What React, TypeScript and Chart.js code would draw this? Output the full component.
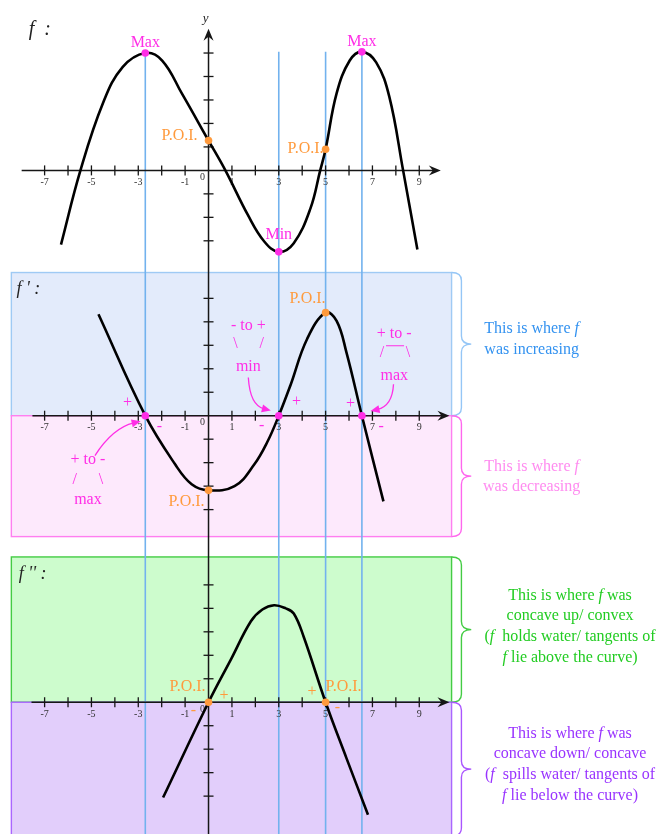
import { useEffect, useRef } from 'react';
import { Chart, registerables } from 'chart.js';

Chart.register(...registerables);

// ---- layout constants (pixels) ----
const W = 668;
const H = 834;
const UNIT = 23.7; // pixels per unit on every axis
const ORIGIN_X = 207;
const ZERO_F = 168;
const ZERO_D1 = 415.7;
const ZERO_D2 = 705;

// ---- f ----
const fX = [-6.3, -5.47, -4.51, -3.67, -2.7, -1.98, -1.14, 0, 0.72, 1.68, 2.38, 3, 3.64, 4.35, 4.77, 5, 5.47, 6.03, 6.55, 7.16, 7.72, 8.31, 8.92];
const fY = [-3.16, 0, 2.86, 4.4, 5.0, 4.68, 3.28, 1.27, 0, -1.9, -3.03, -3.47, -3.1, -1.63, 0, 0.9, 3.28, 4.68, 5.05, 4.6, 3.14, 0, -3.37];
const fExtX = [-2.7, 3, 6.55];
const fExtY = [5.0, -3.47, 5.05];
const fExtLabels = ['Max', 'Min', 'Max'];
const fPoiX = [0, 5];
const fPoiY = [1.27, 0.9];

// ---- f' ----
const d1X = [-4.7, -2.7, -1.42, -0.72, 0, 1.11, 1.95, 2.52, 3, 3.5, 4.21, 5, 5.47, 5.89, 6.55, 7.47];
const d1Y = [4.32, 0, -2.08, -2.92, -3.18, -3.0, -2.08, -1.1, 0, 1.3, 3.27, 4.39, 4.04, 2.7, 0, -3.65];
const d1ZeroX = [-2.7, 3, 6.55];
const d1PoiX = [0, 5];
const d1PoiY = [-3.18, 4.39];

// ---- f'' ----
const d2X = [-1.94, 0, 0.97, 1.81, 2.3, 2.8, 3.3, 3.64, 4.06, 5, 5.89, 6.81];
const d2Y = [-4.06, 0, 1.85, 3.45, 3.95, 4.13, 4.0, 3.78, 2.8, 0, -2.38, -4.79];
const d2PoiX = [0, 5];

// ---- axes ----
const xTicks = [-7, -6, -5, -4, -3, -2, -1, 1, 2, 3, 4, 5, 6, 7, 8, 9];
const xTickLabels = [-7, -5, -3, -1, 1, 3, 5, 7, 9];
const fYTicks = [-3, -2, -1, 1, 2, 3, 4, 5];
const dYTicks = [-4, -3, -2, -1, 1, 2, 3, 4, 5];
const guideX = [-2.7, 3, 5, 6.55];

const FONT = '"Liberation Serif", "Times New Roman", serif';
const MAGENTA = '#ff2ee6';
const ORANGE = '#ff9a3c';
const GUIDE = '#72b2ee';
const AXIS = '#161616';

type Part = [string, boolean];

function drawRich(ctx: CanvasRenderingContext2D, parts: Part[], x: number, y: number, size: number, color: string, align: 'left' | 'center' = 'center') {
  const fontOf = (it: boolean) => `${it ? 'italic ' : ''}${size}px ${FONT}`;
  let total = 0;
  const widths = parts.map(([t, it]) => {
    ctx.font = fontOf(it);
    const w = ctx.measureText(t).width;
    total += w;
    return w;
  });
  let cx = align === 'center' ? x - total / 2 : x;
  ctx.textAlign = 'left';
  ctx.textBaseline = 'middle';
  ctx.fillStyle = color;
  parts.forEach(([t, it], i) => {
    ctx.font = fontOf(it);
    ctx.fillText(t, cx, y);
    cx += widths[i];
  });
}

function text(ctx: CanvasRenderingContext2D, s: string, x: number, y: number, size: number, color: string, align: CanvasTextAlign = 'center', italic = false) {
  ctx.font = `${italic ? 'italic ' : ''}${size}px ${FONT}`;
  ctx.textAlign = align;
  ctx.textBaseline = 'middle';
  ctx.fillStyle = color;
  ctx.fillText(s, x, y);
}

function curvedArrow(ctx: CanvasRenderingContext2D, sx: number, sy: number, cx: number, cy: number, ex: number, ey: number, color: string) {
  const a = Math.atan2(ey - cy, ex - cx);
  const L = 9;
  const hw = 4;
  const bx = ex - (L - 2) * Math.cos(a);
  const by = ey - (L - 2) * Math.sin(a);
  ctx.strokeStyle = color;
  ctx.fillStyle = color;
  ctx.lineWidth = 1.3;
  ctx.beginPath();
  ctx.moveTo(sx, sy);
  ctx.quadraticCurveTo(cx, cy, bx, by);
  ctx.stroke();
  ctx.beginPath();
  ctx.moveTo(ex, ey);
  ctx.lineTo(ex - L * Math.cos(a) + hw * Math.sin(a), ey - L * Math.sin(a) - hw * Math.cos(a));
  ctx.lineTo(ex - L * Math.cos(a) - hw * Math.sin(a), ey - L * Math.sin(a) + hw * Math.cos(a));
  ctx.closePath();
  ctx.fill();
}

function brace(ctx: CanvasRenderingContext2D, x0: number, x1: number, tip: number, top: number, bottom: number, color: string) {
  const mid = (top + bottom) / 2;
  const r = 8;
  ctx.strokeStyle = color;
  ctx.lineWidth = 1.4;
  ctx.beginPath();
  ctx.moveTo(x0, top);
  ctx.quadraticCurveTo(x1, top, x1, top + r);
  ctx.lineTo(x1, mid - r);
  ctx.quadraticCurveTo(x1, mid, tip, mid);
  ctx.quadraticCurveTo(x1, mid, x1, mid + r);
  ctx.lineTo(x1, bottom - r);
  ctx.quadraticCurveTo(x1, bottom, x0, bottom);
  ctx.stroke();
}

const diagram = {
  id: 'diagram',
  beforeDatasetsDraw(chart: any) {
    const { ctx, scales } = chart;
    const sx = scales.x;
    const yf = scales.yf;
    const y1 = scales.yd1;
    const y2 = scales.yd2;
    const X = (v: number) => sx.getPixelForValue(v);
    ctx.save();

    // panel backgrounds for f' and f''
    const box = (ys: any, top: number, bottom: number, fill: string, stroke: string) => {
      const l = X(-8.42);
      const r = X(10.38);
      const t = ys.getPixelForValue(top);
      const b = ys.getPixelForValue(bottom);
      ctx.fillStyle = fill;
      ctx.fillRect(l, t, r - l, b - t);
      ctx.strokeStyle = stroke;
      ctx.lineWidth = 1.4;
      ctx.strokeRect(l, t, r - l, b - t);
    };
    box(y1, 6.1, 0, '#e3ebfb', '#9fcaf4');
    box(y1, 0, -5.15, '#fde9fc', '#ff7ef0');
    box(y2, 6.19, 0, '#cdfccd', '#44cc44');
    box(y2, 0, -6.5, '#e2cefb', '#aa66ff');

    // vertical guide lines through the critical x values
    ctx.strokeStyle = GUIDE;
    ctx.lineWidth = 1.6;
    const gTop = yf.getPixelForValue(5.05);
    guideX.forEach((g) => {
      ctx.beginPath();
      ctx.moveTo(X(g), gTop);
      ctx.lineTo(X(g), H);
      ctx.stroke();
    });

    // y axis (one line through all three panels)
    const ax = X(0);
    const yTip = yf.getPixelForValue(6.03);
    ctx.strokeStyle = AXIS;
    ctx.fillStyle = AXIS;
    ctx.lineWidth = 1.5;
    ctx.beginPath();
    ctx.moveTo(ax, yTip + 6);
    ctx.lineTo(ax, H);
    ctx.stroke();
    ctx.beginPath();
    ctx.moveTo(ax, yTip);
    ctx.lineTo(ax - 5, yTip + 12);
    ctx.lineTo(ax, yTip + 8);
    ctx.lineTo(ax + 5, yTip + 12);
    ctx.closePath();
    ctx.fill();
    text(ctx, 'y', ax - 3, yf.getPixelForValue(6.46), 13, '#222', 'center', true);

    // x axes, ticks and labels
    const xAxis = (ys: any, from: number, to: number, yTicks: number[]) => {
      const y = ys.getPixelForValue(0);
      const tip = X(to);
      ctx.strokeStyle = AXIS;
      ctx.fillStyle = AXIS;
      ctx.lineWidth = 1.5;
      ctx.beginPath();
      ctx.moveTo(X(from), y);
      ctx.lineTo(tip - 6, y);
      ctx.stroke();
      ctx.beginPath();
      ctx.moveTo(tip, y);
      ctx.lineTo(tip - 12, y - 5);
      ctx.lineTo(tip - 8, y);
      ctx.lineTo(tip - 12, y + 5);
      ctx.closePath();
      ctx.fill();
      ctx.lineWidth = 1.3;
      xTicks.forEach((t) => {
        ctx.beginPath();
        ctx.moveTo(X(t), y - 5);
        ctx.lineTo(X(t), y + 5);
        ctx.stroke();
      });
      yTicks.forEach((t) => {
        const py = ys.getPixelForValue(t);
        ctx.beginPath();
        ctx.moveTo(ax - 5, py);
        ctx.lineTo(ax + 5, py);
        ctx.stroke();
      });
      xTickLabels.forEach((t) => {
        text(ctx, String(t), X(t), y + 12, 10, '#333');
      });
      text(ctx, '0', X(0) - 6, y + 7, 10, '#333');
    };
    xAxis(yf, -7.98, 9.92, fYTicks);
    xAxis(y1, -7.52, 10.29, dYTicks);
    xAxis(y2, -7.56, 10.29, dYTicks);

    // braces beside the shaded regions
    const bx0 = X(10.38);
    const bx1 = X(10.8);
    const btip = X(11.22);
    brace(ctx, bx0, bx1, btip, y1.getPixelForValue(6.1), y1.getPixelForValue(0), '#95c6f6');
    brace(ctx, bx0, bx1, btip, y1.getPixelForValue(0), y1.getPixelForValue(-5.15), '#ff66ee');
    brace(ctx, bx0, bx1, btip, y2.getPixelForValue(6.19), y2.getPixelForValue(0), '#44cc44');
    brace(ctx, bx0, bx1, btip, y2.getPixelForValue(0), y2.getPixelForValue(-5.7), '#aa55ff');

    ctx.restore();
  },
  afterDatasetsDraw(chart: any) {
    const { ctx, scales } = chart;
    const sx = scales.x;
    const yf = scales.yf;
    const y1 = scales.yd1;
    const y2 = scales.yd2;
    const X = (v: number) => sx.getPixelForValue(v);
    ctx.save();

    // panel titles
    drawRich(ctx, [['f', true], ['  :', true]], X(-7.68), yf.getPixelForValue(6.0), 20, '#222', 'left');
    drawRich(ctx, [['f', true], [" ' :", true]], X(-8.2), y1.getPixelForValue(5.4), 18, '#222', 'left');
    drawRich(ctx, [['f', true], [" '' :", true]], X(-8.1), y2.getPixelForValue(5.46), 18, '#222', 'left');

    // f: extrema and inflection labels
    fExtX.forEach((x, i) => {
      const off = fExtLabels[i] === 'Min' ? -17 : -10;
      text(ctx, fExtLabels[i], X(x), yf.getPixelForValue(fExtY[i]) + off, 16, MAGENTA);
    });
    text(ctx, 'P.O.I.', X(fPoiX[0]) - 11, yf.getPixelForValue(fPoiY[0]) - 5, 16, ORANGE, 'right');
    text(ctx, 'P.O.I.', X(fPoiX[1]) - 2, yf.getPixelForValue(fPoiY[1]), 16, ORANGE, 'right');

    // f': inflection labels
    text(ctx, 'P.O.I.', X(d1PoiX[1]), y1.getPixelForValue(d1PoiY[1]) - 14, 16, ORANGE, 'right');
    text(ctx, 'P.O.I.', X(d1PoiX[0]) - 4, y1.getPixelForValue(d1PoiY[0]) + 11, 16, ORANGE, 'right');

    // f': sign changes
    const d1Signs: [string, number, number][] = [
      ['+', -3.46, 0.57], ['-', -2.1, -0.46], ['-', 2.27, -0.43],
      ['+', 3.76, 0.59], ['+', 6.06, 0.52], ['-', 7.37, -0.46],
    ];
    d1Signs.forEach(([s, x, y]) => text(ctx, s, X(x), y1.getPixelForValue(y), 16, MAGENTA));

    const P1 = (x: number, y: number): [number, number] => [X(x), y1.getPixelForValue(y)];
    const t1 = (s: string, x: number, y: number) => { const [px, py] = P1(x, y); text(ctx, s, px, py, 16, MAGENTA); };

    // - to + : minimum
    t1('- to +', 1.7, 3.82);
    t1('\\', 1.15, 3.05);
    t1('/', 2.27, 3.07);
    t1('min', 1.7, 2.1);
    curvedArrow(ctx, ...P1(1.7, 1.63), ...P1(1.77, 0.45), ...P1(2.66, 0.22), MAGENTA);

    // + to - : maximum (right)
    t1('+ to -', 7.93, 3.48);
    t1('/', 7.41, 2.69);
    t1('\\', 8.52, 2.69);
    {
      const [a, b] = P1(7.58, 2.98);
      const [c] = P1(8.35, 2.98);
      ctx.strokeStyle = MAGENTA;
      ctx.lineWidth = 1;
      ctx.beginPath();
      ctx.moveTo(a, b);
      ctx.lineTo(c, b);
      ctx.stroke();
    }
    t1('max', 7.93, 1.72);
    curvedArrow(ctx, ...P1(7.9, 1.34), ...P1(7.85, 0.41), ...P1(6.92, 0.2), MAGENTA);

    // + to - : maximum (left)
    t1('+ to -', -5.15, -1.87);
    t1('/', -5.71, -2.71);
    t1('\\', -4.59, -2.71);
    t1('max', -5.15, -3.6);
    curvedArrow(ctx, ...P1(-4.85, -1.7), ...P1(-4.09, -0.52), ...P1(-2.9, -0.24), MAGENTA);

    // f'': inflection labels and signs
    text(ctx, 'P.O.I.', X(d2PoiX[0]) - 3, y2.getPixelForValue(0) - 15, 16, ORANGE, 'right');
    text(ctx, 'P.O.I.', X(d2PoiX[1]), y2.getPixelForValue(0) - 15, 16, ORANGE, 'left');
    const d2Signs: [string, number, number][] = [
      ['-', -0.65, -0.35], ['+', 0.66, 0.28], ['+', 4.42, 0.45], ['-', 5.5, -0.24],
    ];
    d2Signs.forEach(([s, x, y]) => text(ctx, s, X(x), y2.getPixelForValue(y), 16, ORANGE));

    // explanations beside the braces
    const block = (lines: Part[][], x: number, ys: any, y: number, color: string) => {
      const py = ys.getPixelForValue(y);
      lines.forEach((ln, i) => drawRich(ctx, ln, X(x), py + i * 20.8, 16, color));
    };
    block([[['This is where ', false], ['f', true]], [['was increasing', false]]], 13.8, y1, 3.7, '#3392f0');
    block([[['This is where ', false], ['f', true]], [['was decreasing', false]]], 13.8, y1, -2.16, '#ff8cf0');
    block([
      [['This is where ', false], ['f', true], [' was', false]],
      [['concave up/ convex', false]],
      [['(', false], ['f', true], ['  holds water/ tangents of', false]],
      [['f', true], [' lie above the curve)', false]],
    ], 15.44, y2, 4.55, '#22cc22');
    block([
      [['This is where ', false], ['f', true], [' was', false]],
      [['concave down/ concave', false]],
      [['(', false], ['f', true], ['  spills water/ tangents of', false]],
      [['f', true], [' lie below the curve)', false]],
    ], 15.44, y2, -1.33, '#9933ff');

    ctx.restore();
  },
};

const zip = (xs: number[], ys: number[]) => xs.map((x, i) => ({ x, y: ys[i] }));

export default function App() {
  const ref = useRef<HTMLCanvasElement | null>(null);

  useEffect(() => {
    document.body.style.margin = '0';
    const canvas = ref.current;
    if (!canvas) return;
    const curve = (data: { x: number; y: number }[], yAxisID: string) => ({
      data,
      yAxisID,
      xAxisID: 'x',
      borderColor: '#000',
      borderWidth: 2.6,
      pointRadius: 0,
      tension: 0.4,
      fill: false,
      order: 1,
    });
    const dots = (data: { x: number; y: number }[], yAxisID: string, color: string) => ({
      data,
      yAxisID,
      xAxisID: 'x',
      showLine: false,
      pointRadius: 3.8,
      pointBorderWidth: 0,
      pointBackgroundColor: color,
      borderColor: color,
      order: 0,
    });
    const chart = new Chart(canvas, {
      type: 'line',
      data: {
        datasets: [
          curve(zip(fX, fY), 'yf'),
          curve(zip(d1X, d1Y), 'yd1'),
          curve(zip(d2X, d2Y), 'yd2'),
          dots(zip(fExtX, fExtY), 'yf', MAGENTA),
          dots(zip(fPoiX, fPoiY), 'yf', ORANGE),
          dots(zip(d1ZeroX, d1ZeroX.map(() => 0)), 'yd1', MAGENTA),
          dots(zip(d1PoiX, d1PoiY), 'yd1', ORANGE),
          dots(zip(d2PoiX, d2PoiX.map(() => 0)), 'yd2', ORANGE),
        ] as any,
      },
      options: {
        responsive: false,
        animation: false,
        devicePixelRatio: 1,
        events: [],
        layout: { padding: 0 },
        plugins: { legend: { display: false }, tooltip: { enabled: false } },
        scales: {
          x: { type: 'linear', display: false, min: -ORIGIN_X / UNIT, max: (W - ORIGIN_X) / UNIT },
          yf: { type: 'linear', display: false, min: -(H - ZERO_F) / UNIT, max: ZERO_F / UNIT },
          yd1: { type: 'linear', display: false, min: -(H - ZERO_D1) / UNIT, max: ZERO_D1 / UNIT },
          yd2: { type: 'linear', display: false, min: -(H - ZERO_D2) / UNIT, max: ZERO_D2 / UNIT },
        },
      },
      plugins: [diagram],
    });
    return () => chart.destroy();
  }, []);

  return <canvas ref={ref} width={W} height={H} style={{ display: 'block' }} />;
}
